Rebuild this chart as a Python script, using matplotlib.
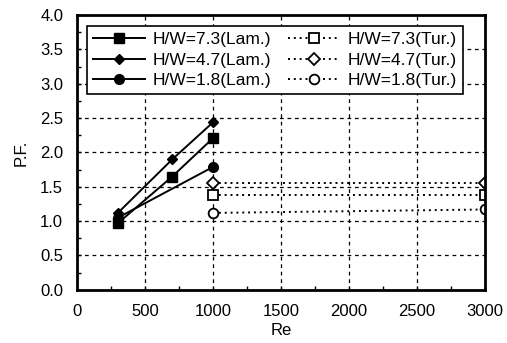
import matplotlib
matplotlib.use("Agg")
import matplotlib.pyplot as plt
from matplotlib.ticker import MultipleLocator

plt.rcParams['font.family'] = ['Liberation Sans', 'DejaVu Sans']

# Data
re_lam_73 = [300, 700, 1000]
pf_lam_73 = [0.97, 1.65, 2.21]
re_lam_47 = [300, 700, 1000]
pf_lam_47 = [1.12, 1.90, 2.44]
re_lam_18 = [300, 1000]
pf_lam_18 = [1.05, 1.79]

re_tur = [1000, 3000]
pf_tur_73 = [1.38, 1.38]
pf_tur_47 = [1.55, 1.55]
pf_tur_18 = [1.12, 1.17]

fig = plt.figure(figsize=(5.07, 3.43), dpi=100)
ax = fig.add_axes([0.152, 0.155, 0.805, 0.801])

k = dict(color='black', lw=1.4)
ax.plot(re_lam_73, pf_lam_73, marker='s', ms=7, label='H/W=7.3(Lam.)', **k)
ax.plot(re_lam_47, pf_lam_47, marker='D', ms=5.5, label='H/W=4.7(Lam.)', **k)
ax.plot(re_lam_18, pf_lam_18, marker='o', ms=7, label='H/W=1.8(Lam.)', **k)

t = dict(color='black', lw=1.4, ls=(0, (1, 2)), mfc='white', mew=1.3)
ax.plot(re_tur, pf_tur_73, marker='s', ms=7, label='H/W=7.3(Tur.)', **t)
ax.plot(re_tur, pf_tur_47, marker='D', ms=6, label='H/W=4.7(Tur.)', **t)
ax.plot(re_tur, pf_tur_18, marker='o', ms=7, label='H/W=1.8(Tur.)', **t)

ax.set_xlim(0, 3000)
ax.set_ylim(0, 4.0)
ax.xaxis.set_major_locator(MultipleLocator(500))
ax.yaxis.set_major_locator(MultipleLocator(0.5))
ax.xaxis.set_minor_locator(MultipleLocator(250))
ax.yaxis.set_minor_locator(MultipleLocator(0.25))
ax.yaxis.set_major_formatter(plt.FormatStrFormatter('%.1f'))
ax.tick_params(which='both', direction='in', length=3, width=1)
ax.tick_params(labelsize=12, pad=10)
ax.grid(True, which='major', color='black', ls=(0, (3, 3)), lw=0.9)
for s in ax.spines.values():
    s.set_linewidth(2)

ax.set_xlabel('Re', fontsize=12, labelpad=3)
ax.set_ylabel('P.F.', fontsize=12, labelpad=8)

leg = ax.legend(ncol=2, loc='upper left', bbox_to_anchor=(0.025, 0.96), fontsize=12.5,
                fancybox=False, edgecolor='black', framealpha=1, handlelength=3,
                borderpad=0.35, labelspacing=0.3, columnspacing=1.0, handletextpad=0.4,
                borderaxespad=0)
leg.get_frame().set_linewidth(1.2)

fig.savefig('out.png', dpi=100)
